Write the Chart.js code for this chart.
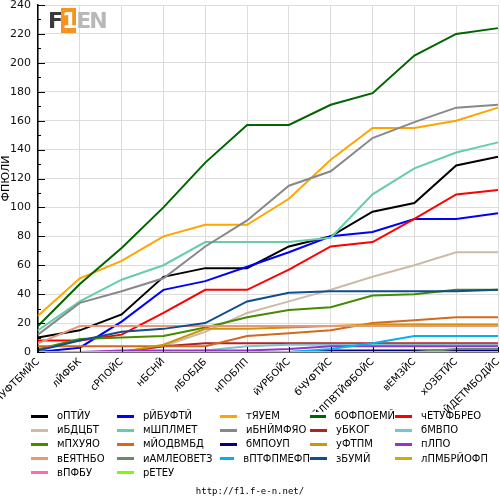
<!DOCTYPE html>
<html>
<head>
<meta charset="utf-8">
<script src="https://cdn.jsdelivr.net/npm/chart.js@4/dist/chart.umd.min.js"></script>
<style>
  body { margin: 0; background: #fff; }
  #wrap { position: relative; width: 500px; height: 500px; overflow: hidden; font-family: "DejaVu Sans", sans-serif; }
  #c { position: absolute; left: 0; top: 0; }
  #logo { position: absolute; left: 48px; top: 8px; font: bold 22px "DejaVu Sans", sans-serif; letter-spacing: -2px; line-height: 26px; }
  #logo .f { color: #3a3a3a; }
  #logo .one { color: #fff; background: #f7931e; padding: 0 1px; }
  #logo .en { color: #b8b8b8; }
  #legend { position: absolute; left: 31px; top: 409px; display: grid; grid-template-columns: 86px 103px 90px 85px auto; row-gap: 0; font-size: 10px; line-height: 14px; color: #000; }
  #legend .item { display: flex; align-items: center; height: 14.2px; white-space: nowrap; }
  #legend .sw { width: 17px; height: 3px; margin-right: 9px; }
  #url { position: absolute; left: 0; width: 500px; top: 486px; text-align: center; font: 9px "DejaVu Sans Mono", monospace; color: #000; }
</style>
</head>
<body>
<div id="wrap">
  <canvas id="c" width="500" height="412"></canvas>
  <div id="logo"><span class="f">F</span><span class="one">1</span><span class="en">EN</span></div>
  <div id="legend"></div>
  <div id="url">http://f1.f-e-n.net/</div>
</div>
<script>
// races (as shown on the picture)
const races = ['бЧУФТБМЙС', 'лЙФБК', 'сРПОЙС', 'нБСНЙ', 'лБОБДБ', 'нПОБЛП', 'йУРБОЙС', 'бЧУФТЙС', 'чЕМЙЛПВТЙФБОЙС', 'вЕМЗЙС', 'хОЗБТЙС', 'оЙДЕТМБОДЙС'];
const yTicks = [0, 20, 40, 60, 80, 100, 120, 140, 160, 180, 200, 220, 240];
const yTitle = 'ФПЮЛЙ';

// cumulative points per driver
const norris     = [10, 15, 26, 52, 58, 58, 73, 80, 97, 103, 129, 135];
const piastri    = [0, 3, 21, 43, 49, 59, 69, 80, 83, 92, 92, 96];
const russell    = [25, 51, 63, 80, 88, 88, 106, 133, 155, 155, 160, 169];
const antonelli  = [18, 47, 72, 100, 131, 157, 157, 171, 179, 205, 220, 224];
const verstappen = [8, 8, 12, 27, 43, 43, 57, 73, 76, 92, 109, 112];
const hadjar     = [0, 0, 0, 4, 14, 27, 35, 43, 52, 60, 69, 69];
const leclerc    = [15, 35, 50, 60, 76, 76, 76, 79, 109, 127, 138, 145];
const hamilton   = [12, 34, 42, 51, 73, 91, 115, 125, 148, 159, 169, 171];
const sainz      = [0, 0, 0, 4, 6, 6, 6, 6, 6, 6, 6, 6];
const albon      = [0, 0, 0, 0, 1, 4, 5, 5, 5, 5, 5, 5];
const lawson     = [2, 9, 10, 11, 17, 24, 29, 31, 39, 40, 43, 43];
const lindblad   = [4, 4, 4, 4, 4, 11, 13, 15, 20, 22, 24, 24];
const alonso     = [0, 0, 0, 0, 0, 0, 0, 1, 1, 1, 1, 1];
const stroll     = [0, 0, 0, 5, 16, 16, 17, 18, 19, 19, 19, 19];
const ocon       = [0, 0, 1, 1, 1, 1, 2, 4, 4, 4, 4, 4];
const bearman    = [6, 18, 18, 18, 18, 18, 18, 18, 18, 18, 18, 18];
const hulkenberg = [0, 0, 0, 0, 0, 0, 0, 0, 0, 0, 2, 2];
const bortoleto  = [0, 0, 0, 0, 0, 0, 0, 2, 6, 11, 11, 11];
const gasly      = [1, 8, 14, 16, 20, 35, 41, 42, 42, 42, 42, 43];
const colapinto  = [0, 0, 0, 0, 0, 0, 0, 0, 0, 0, 0, 0];
const bottas     = [0, 0, 0, 0, 0, 0, 0, 0, 0, 0, 0, 0];
const perez      = [0, 0, 0, 0, 0, 0, 0, 0, 0, 0, 0, 0];

const names = ['оПТЙУ', 'рЙБУФТЙ', 'тЯУЕМ', 'бОФПОЕМЙ', 'чЕТУФБРЕО',
               'иБДЦБТ', 'мШПЛМЕТ', 'иБНЙМФЯО', 'уБКОГ', 'бМВПО',
               'мПХУЯО', 'мЙОДВМБД', 'бМПОУП', 'уФТПМ', 'пЛПО',
               'вЕЯТНБО', 'иАМЛЕОВЕТЗ', 'вПТФПМЕФП', 'зБУМЙ', 'лПМБРЙОФП',
               'вПФБУ', 'рЕТЕУ'];
const series = [norris, piastri, russell, antonelli, verstappen,
                hadjar, leclerc, hamilton, sainz, albon,
                lawson, lindblad, alonso, stroll, ocon,
                bearman, hulkenberg, bortoleto, gasly, colapinto,
                bottas, perez];
const colors = ['#000000', '#0000ff', '#ffa500', '#006400', '#ff0000',
                '#cdbba8', '#66cdaa', '#888888', '#b22222', '#7ac5cd',
                '#458b00', '#d2691e', '#000080', '#cd950c', '#9932cc',
                '#e9967a', '#698b69', '#00b2ee', '#104e8b', '#cdad00',
                '#ff69b4', '#7cfc00'];

// later drivers are painted on top, as in the original
const datasets = series.map((d, i) => ({
  label: names[i],
  data: d,
  borderColor: colors[i],
  backgroundColor: colors[i],
  borderWidth: 2,
  pointRadius: 0,
  tension: 0,
  fill: false,
  order: series.length - i
}));

// small ticks drawn inside the plot, like the original
const innerTicks = {
  id: 'innerTicks',
  afterDraw(chart) {
    const ctx = chart.ctx, x = chart.scales.x, y = chart.scales.y;
    const a = chart.chartArea;
    ctx.save();
    ctx.strokeStyle = '#000';
    ctx.lineWidth = 1;
    ctx.beginPath();
    for (let i = 0; i < races.length; i++) {
      const px = Math.round(x.getPixelForTick(i)) + 0.5;
      ctx.moveTo(px, a.bottom);
      ctx.lineTo(px, a.bottom - 5);
    }
    for (let v = 0; v <= 240; v += 10) {
      const py = Math.round(y.getPixelForValue(v)) + 0.5;
      ctx.moveTo(a.left, py);
      ctx.lineTo(a.left + (v % 20 === 0 ? 7 : 3), py);
    }
    ctx.stroke();
    ctx.restore();
  }
};

Chart.defaults.font.family = '"DejaVu Sans", sans-serif';
Chart.defaults.color = '#111';

const chart = new Chart(document.getElementById('c'), {
  type: 'line',
  data: { labels: races, datasets: datasets },
  options: {
    responsive: false,
    animation: false,
    layout: { padding: { left: 0, right: 2, top: 5, bottom: 0 } },
    plugins: { legend: { display: false }, tooltip: { enabled: false } },
    scales: {
      x: {
        offset: false,
        grid: { color: '#dcdcdc', drawTicks: false },
        border: { color: '#000', width: 1.5 },
        ticks: { minRotation: 45, maxRotation: 45, autoSkip: false, padding: 4, font: { size: 10 }, color: '#000' },
        afterFit(scale) { scale.height = 60; scale.paddingLeft = 0; scale.paddingRight = 0; }
      },
      y: {
        min: 0,
        max: 240,
        afterBuildTicks(scale) { scale.ticks = yTicks.map(v => ({ value: v })); },
        grid: { color: '#dcdcdc', drawTicks: false },
        border: { color: '#000', width: 1.5 },
        ticks: { padding: 7, font: { size: 11 }, color: '#111' },
        title: { display: true, text: yTitle, font: { size: 11 }, color: '#000', padding: 0 },
        afterFit(scale) { scale.width = 38; scale.paddingTop = 0; scale.paddingBottom = 0; }
      }
    }
  },
  plugins: [innerTicks]
});

// legend in five columns, built from the chart's datasets
const leg = document.getElementById('legend');
chart.data.datasets.forEach(ds => {
  const item = document.createElement('div');
  item.className = 'item';
  item.innerHTML = '<span class="sw" style="background:' + ds.borderColor + '"></span><span>' + ds.label + '</span>';
  leg.appendChild(item);
});
</script>
</body>
</html>
